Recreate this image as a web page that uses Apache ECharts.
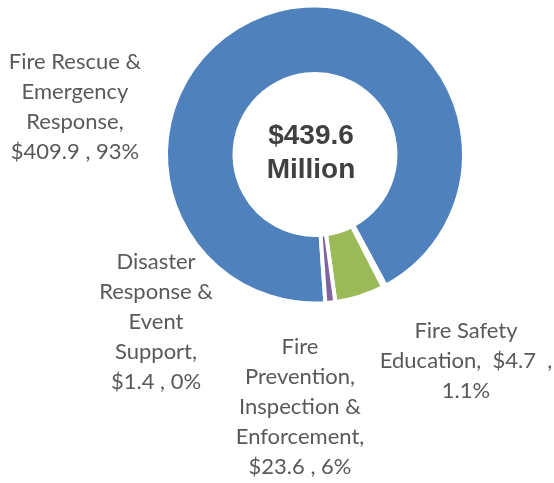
<!DOCTYPE html>
<html>
<head>
<meta charset="utf-8">
<script src="https://cdn.jsdelivr.net/npm/echarts@6/dist/echarts.min.js"></script>
<style>
  html, body { margin: 0; padding: 0; background: #ffffff; }
  #chart { width: 554px; height: 483px; }
</style>
</head>
<body>
<div id="chart"></div>
<script>
// Fire department budget by program, $ millions
const categories = [
  'Fire Rescue & Emergency Response',
  'Disaster Response & Event Support',
  'Fire Prevention, Inspection & Enforcement',
  'Fire Safety Education'
];
const amounts = [409.9, 1.4, 23.6, 4.7];
const shareLabels = ['93%', '0%', '6%', '1.1%'];
const labelTemplates = [
  'Fire Rescue &\nEmergency\nResponse,\n{v} , {p}',
  'Disaster\nResponse &\nEvent\nSupport,\n{v} , {p}',
  'Fire\nPrevention,\nInspection &\nEnforcement,\n{v} , {p}',
  'Fire Safety\nEducation,  {v}  ,\n{p}'
];
const sliceColors = ['#4F81BD', '#C0504D', '#9BBB59', '#8064A2'];

// where each wrapped label block is centred
const labelSpots = [[75, 107], [156, 322], [300, 407], [466, 361]];

const total = amounts.reduce((a, b) => a + b, 0);

const chart = echarts.init(document.getElementById('chart'), null, { renderer: 'canvas' });

chart.setOption({
  animation: false,
  backgroundColor: '#ffffff',
  graphic: [{
    type: 'text',
    x: 311,
    y: 153,
    style: {
      text: '$' + total.toFixed(1) + '\nMillion',
      font: 'bold 28px "Liberation Sans", Arial, sans-serif',
      fill: '#404040',
      align: 'center',
      verticalAlign: 'middle',
      lineHeight: 34
    },
    z: 10
  }],
  series: [{
    type: 'pie',
    center: [315, 154.5],
    radius: [80.5, 149],
    startAngle: -86,
    clockwise: true,
    avoidLabelOverlap: false,
    itemStyle: { borderColor: '#ffffff', borderWidth: 4 },
    emphasis: { disabled: true },
    labelLine: { show: false },
    label: {
      show: true,
      position: 'outside',
      color: '#595959',
      fontFamily: 'Lato, sans-serif',
      fontSize: 22,
      lineHeight: 30,
      align: 'center',
      formatter: p => labelTemplates[p.dataIndex]
        .replace('{v}', '$' + amounts[p.dataIndex])
        .replace('{p}', shareLabels[p.dataIndex])
    },
    labelLayout: p => ({
      x: labelSpots[p.dataIndex][0],
      y: labelSpots[p.dataIndex][1],
      align: 'center',
      verticalAlign: 'middle'
    }),
    data: categories.map((name, i) => ({
      name: name,
      value: amounts[i],
      itemStyle: { color: sliceColors[i] }
    }))
  }]
});
</script>
</body>
</html>
